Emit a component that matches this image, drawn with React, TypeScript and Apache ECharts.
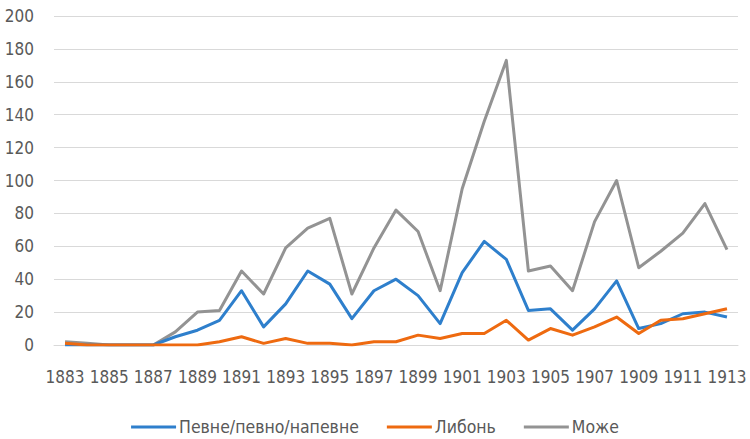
import React, { useEffect, useRef } from "react";
import * as echarts from "echarts";

const years: string[] = [];
for (let y = 1883; y <= 1913; y++) years.push(String(y));

const pevne = [0, 0, 0, 0, 0, 5, 9, 15, 33, 11, 25, 45, 37, 16, 33, 40, 30, 13, 44, 63, 52, 21, 22, 9, 22, 39, 10, 13, 19, 20, 17];
const lybon = [1, 0, 0, 0, 0, 0, 0, 2, 5, 1, 4, 1, 1, 0, 2, 2, 6, 4, 7, 7, 15, 3, 10, 6, 11, 17, 7, 15, 16, 19, 22];
const mozhe = [2, 1, 0, 0, 0, 8, 20, 21, 45, 31, 59, 71, 77, 31, 59, 82, 69, 33, 95, 136, 173, 45, 48, 33, 75, 100, 47, 57, 68, 86, 58];

const seriesNames = ["Певне/певно/напевне", "Либонь", "Може"];
const colors = ["#2E7FCC", "#EE6A10", "#939393"];

const FONT = "'DejaVu Sans Condensed', 'Liberation Sans Narrow', 'Open Sans', sans-serif";

export default function App() {
  const ref = useRef<HTMLDivElement>(null);
  useEffect(() => {
    if (!ref.current) return;
    const chart = echarts.init(ref.current, null, { renderer: "svg" });
    const data = [pevne, lybon, mozhe];
    chart.setOption({
      animation: false,
      backgroundColor: "#ffffff",
      textStyle: { fontFamily: FONT },
      grid: { left: 54, right: 12, top: 16, bottom: 94, containLabel: false },
      legend: {
        top: 413,
        left: "center",
        padding: [5, 5, 5, 0],
        icon: "rect",
        itemWidth: 45,
        itemHeight: 3,
        itemGap: 28,
        textStyle: { fontFamily: FONT, fontSize: 17.5, color: "#595959", padding: [0, 0, 0, -2] },
        data: seriesNames,
      },
      xAxis: {
        type: "category",
        data: years,
        boundaryGap: true,
        axisLine: { lineStyle: { color: "#D9D9D9", width: 1 } },
        axisTick: { show: false },
        axisLabel: { interval: 1, color: "#595959", fontSize: 17, fontFamily: FONT, margin: 23 },
      },
      yAxis: {
        type: "value",
        min: 0,
        max: 200,
        interval: 20,
        axisLine: { show: false },
        axisTick: { show: false },
        splitLine: { lineStyle: { color: "#D9D9D9", width: 1 } },
        axisLabel: { color: "#595959", fontSize: 17, fontFamily: FONT, margin: 20 },
      },
      series: seriesNames.map((name, i) => ({
        name,
        type: "line",
        data: data[i],
        symbol: "none",
        lineStyle: { width: 3, color: colors[i], join: "round" },
        itemStyle: { color: colors[i] },
        z: i === 2 ? 1 : i === 0 ? 2 : 3,
      })),
    });
    return () => chart.dispose();
  }, []);
  return <div ref={ref} style={{ width: 750, height: 439, position: "absolute", left: 0, top: 0 }} />;
}
